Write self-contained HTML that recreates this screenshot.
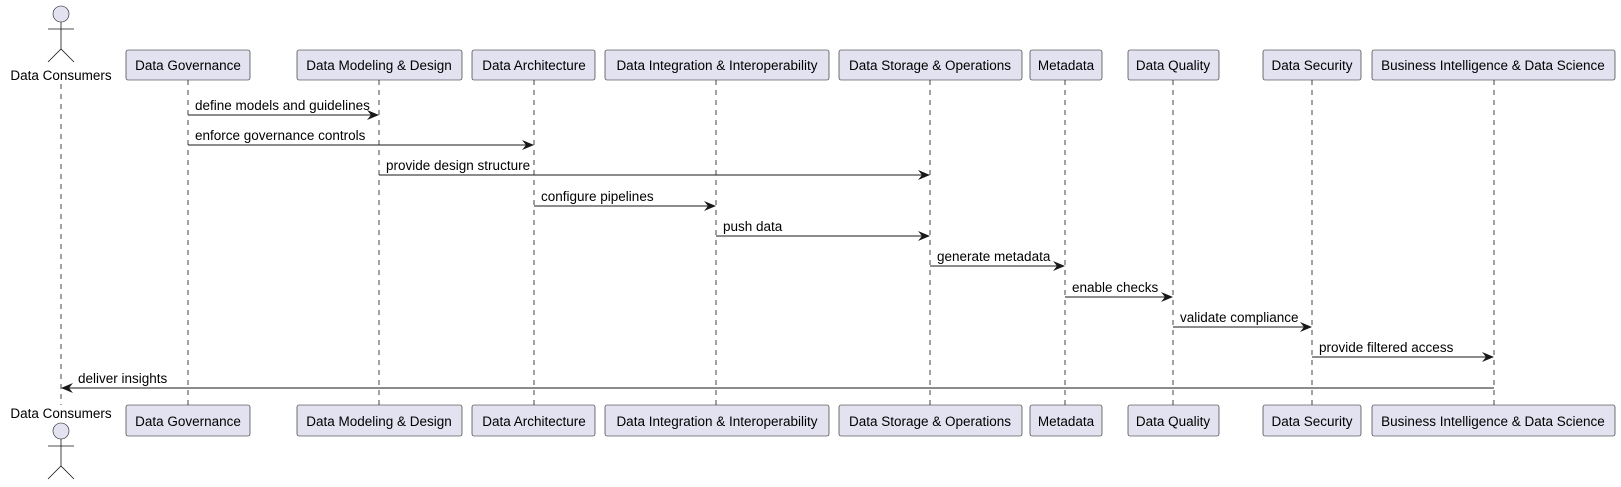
<!DOCTYPE html>
<html><head><meta charset="utf-8"><style>html,body{margin:0;padding:0;background:#fff}svg{display:block}</style></head>
<body>
<svg width="1621" height="487" xmlns="http://www.w3.org/2000/svg" font-family="Liberation Sans, sans-serif" font-size="13.5">
<defs><marker id="a" viewBox="0 0 12 10" refX="11" refY="5" markerWidth="12" markerHeight="10" orient="auto" markerUnits="userSpaceOnUse"><path d="M0,0 L12,5 L0,10 L4,5 Z" fill="#181818"/></marker></defs>
<g stroke="#181818" stroke-width="0.8" stroke-dasharray="5,5">
<line x1="61" y1="84" x2="61" y2="405"/>
<line x1="188" y1="80" x2="188" y2="405"/>
<line x1="379" y1="80" x2="379" y2="405"/>
<line x1="534" y1="80" x2="534" y2="405"/>
<line x1="716" y1="80" x2="716" y2="405"/>
<line x1="930" y1="80" x2="930" y2="405"/>
<line x1="1065" y1="80" x2="1065" y2="405"/>
<line x1="1173" y1="80" x2="1173" y2="405"/>
<line x1="1312" y1="80" x2="1312" y2="405"/>
<line x1="1494" y1="80" x2="1494" y2="405"/>
</g>
<g fill="#E2E2F0" stroke="#181818" stroke-width="0.6">
<circle cx="61" cy="14" r="8"/>
<circle cx="61" cy="431" r="8"/>
</g>
<g stroke="#181818" stroke-width="0.8" fill="none">
<path d="M61,22 V49 M48,29 H74 M48,62 L61,49 L74,62"/>
<path d="M61,439 V466 M48,446 H74 M48,479 L61,466 L74,479"/>
</g>
<text x="61" y="80" text-anchor="middle" fill="#000">Data Consumers</text>
<text x="61" y="418" text-anchor="middle" fill="#000">Data Consumers</text>
<g fill="#E2E2F0" stroke="#181818" stroke-width="0.6">
<rect x="126" y="50" width="124" height="30" rx="2"/><rect x="126" y="405" width="124" height="31" rx="2"/>
<rect x="297" y="50" width="165" height="30" rx="2"/><rect x="297" y="405" width="165" height="31" rx="2"/>
<rect x="472" y="50" width="123" height="30" rx="2"/><rect x="472" y="405" width="123" height="31" rx="2"/>
<rect x="605" y="50" width="224" height="30" rx="2"/><rect x="605" y="405" width="224" height="31" rx="2"/>
<rect x="839" y="50" width="183" height="30" rx="2"/><rect x="839" y="405" width="183" height="31" rx="2"/>
<rect x="1030" y="50" width="72" height="30" rx="2"/><rect x="1030" y="405" width="72" height="31" rx="2"/>
<rect x="1128" y="50" width="91" height="30" rx="2"/><rect x="1128" y="405" width="91" height="31" rx="2"/>
<rect x="1263" y="50" width="98" height="30" rx="2"/><rect x="1263" y="405" width="98" height="31" rx="2"/>
<rect x="1372" y="50" width="243" height="30" rx="2"/><rect x="1372" y="405" width="243" height="31" rx="2"/>
</g>
<g text-anchor="middle" fill="#000">
<text x="188" y="70">Data Governance</text><text x="188" y="426">Data Governance</text>
<text x="379" y="70">Data Modeling &amp; Design</text><text x="379" y="426">Data Modeling &amp; Design</text>
<text x="534" y="70">Data Architecture</text><text x="534" y="426">Data Architecture</text>
<text x="717" y="70">Data Integration &amp; Interoperability</text><text x="717" y="426">Data Integration &amp; Interoperability</text>
<text x="930" y="70">Data Storage &amp; Operations</text><text x="930" y="426">Data Storage &amp; Operations</text>
<text x="1066" y="70">Metadata</text><text x="1066" y="426">Metadata</text>
<text x="1173" y="70">Data Quality</text><text x="1173" y="426">Data Quality</text>
<text x="1312" y="70">Data Security</text><text x="1312" y="426">Data Security</text>
<text x="1493" y="70">Business Intelligence &amp; Data Science</text><text x="1493" y="426">Business Intelligence &amp; Data Science</text>
</g>
<g stroke="#181818" stroke-width="1" marker-end="url(#a)">
<line x1="188" y1="115" x2="378" y2="115"/>
<line x1="188" y1="145" x2="533" y2="145"/>
<line x1="379" y1="175" x2="929" y2="175"/>
<line x1="534" y1="206" x2="715" y2="206"/>
<line x1="716" y1="236" x2="929" y2="236"/>
<line x1="930" y1="266" x2="1064" y2="266"/>
<line x1="1065" y1="297" x2="1172" y2="297"/>
<line x1="1173" y1="327" x2="1311" y2="327"/>
<line x1="1312" y1="357" x2="1493" y2="357"/>
<line x1="1494" y1="388" x2="62" y2="388"/>
</g>
<g fill="#000">
<text x="195" y="110">define models and guidelines</text>
<text x="195" y="140">enforce governance controls</text>
<text x="386" y="170">provide design structure</text>
<text x="541" y="201">configure pipelines</text>
<text x="723" y="231">push data</text>
<text x="937" y="261">generate metadata</text>
<text x="1072" y="292">enable checks</text>
<text x="1180" y="322">validate compliance</text>
<text x="1319" y="352">provide filtered access</text>
<text x="78" y="383">deliver insights</text>
</g>
</svg>
</body></html>
